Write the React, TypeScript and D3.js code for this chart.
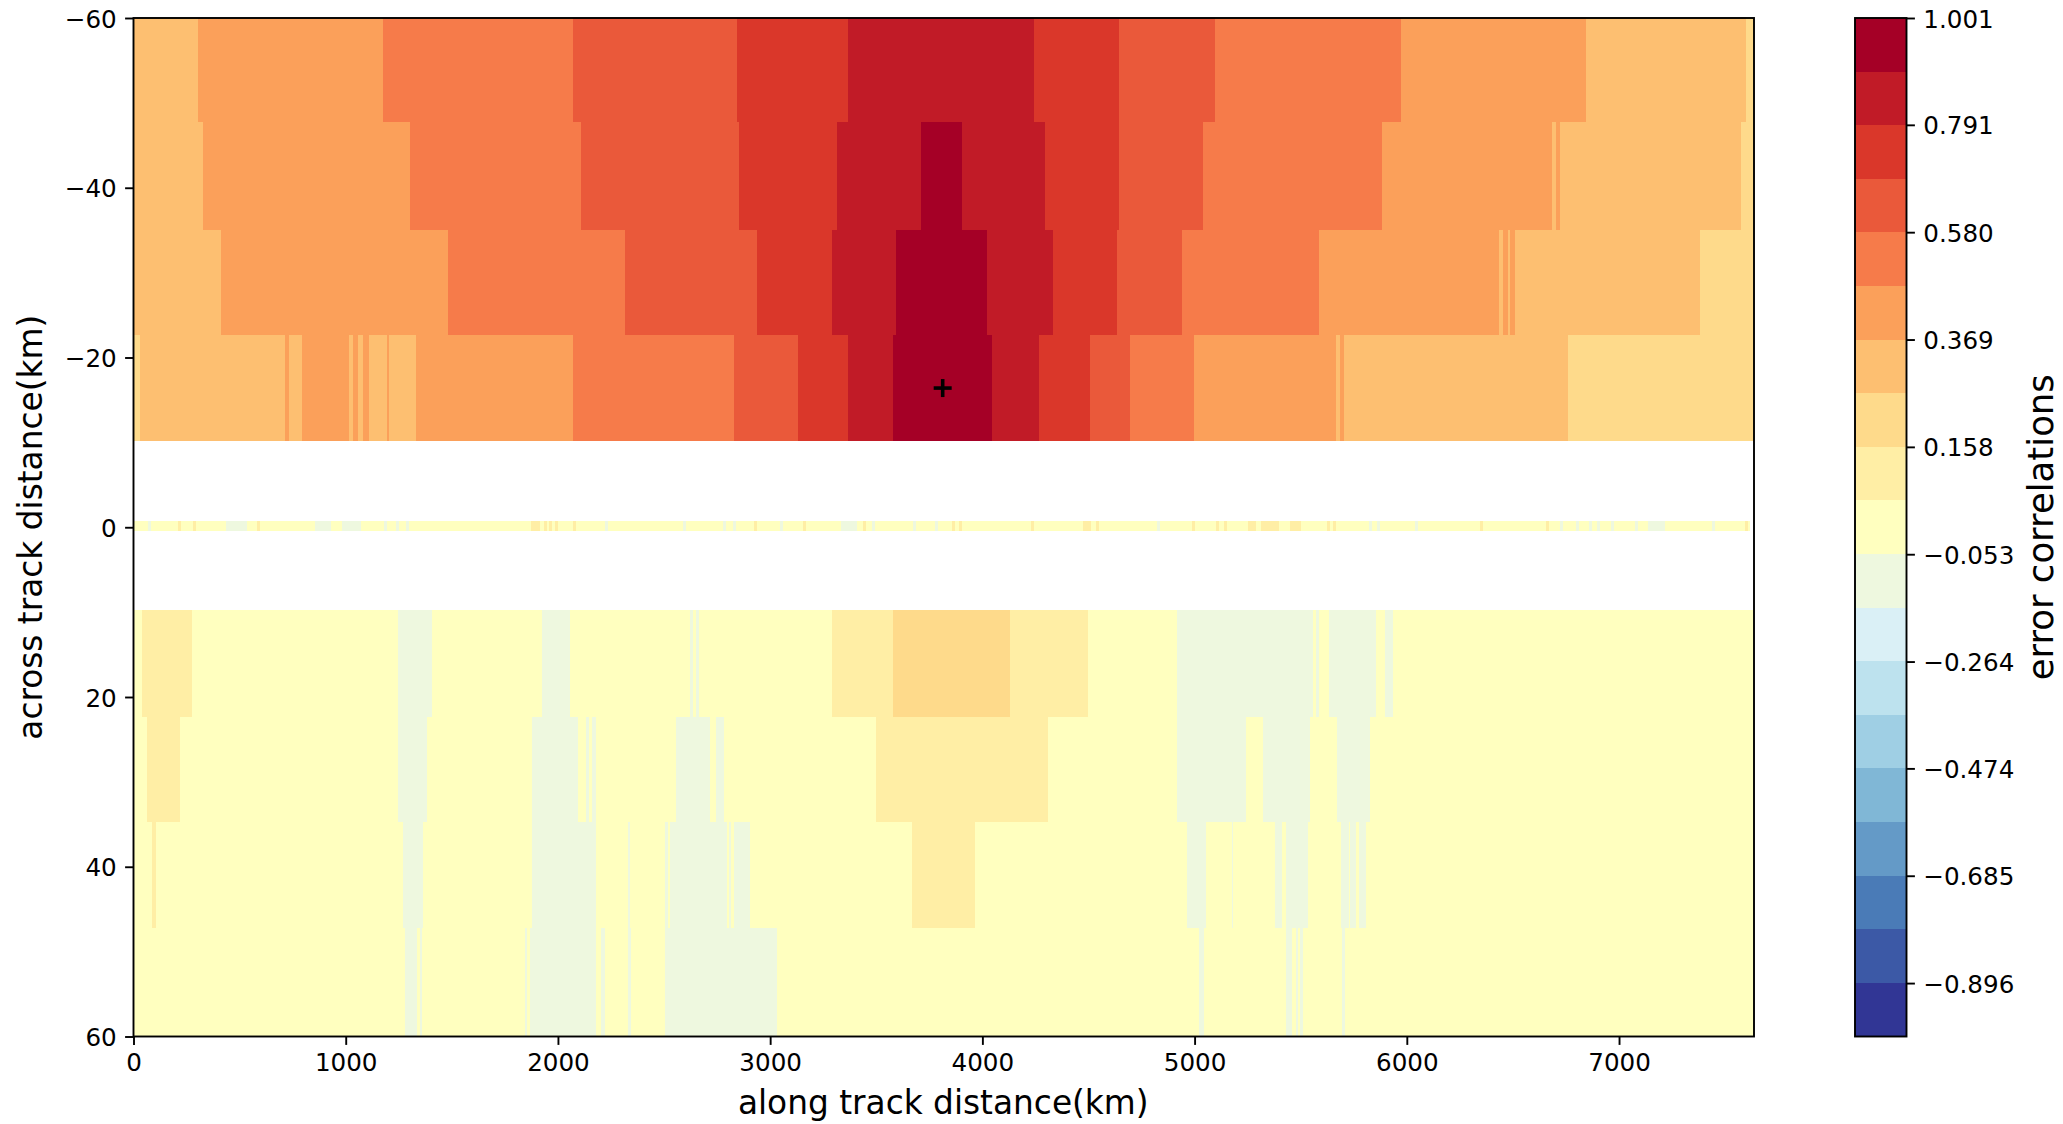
import React, { useRef, useEffect } from "react";
import * as d3 from "d3";

const xMax = 7636;
const xTicks = [0, 1000, 2000, 3000, 4000, 5000, 6000, 7000];
const yTicks = [-60, -40, -20, 0, 20, 40, 60];
const cbarTicks = [1.001, 0.791, 0.58, 0.369, 0.158, -0.053, -0.264, -0.474, -0.685, -0.896];

// RdYlBu_r in 19 steps, low to high
const cbarColors = [
  "#313695", "#3c59a6", "#4a7bb7", "#649ac7", "#80b7d6", "#9fcfe4", "#bde2ee", "#daf0f6", "#eef8df", "#ffffbf",
  "#ffeea5", "#feda8b", "#fdbf71", "#fba05a", "#f67b4a", "#ea593a", "#da372a", "#c11b27", "#a50026",
];

// band centres, named by where they show up in the picture
const a = 0.948, b = 0.843, c = 0.738, d = 0.632, e = 0.527, f = 0.422, g = 0.316, h = 0.211, i = 0.105, y0 = 0, n = -0.105;

// across track row limits (km)
const rowLimits = [
  [-60, -47.7], [-47.7, -35], [-35, -22.7], [-22.7, -10.2], [-0.7, 0.4],
  [9.7, 22.3], [22.3, 34.7], [34.7, 47.2], [47.2, 60],
];

// each row: along track edges and the value between them
const row1Edges = [0, 304, 1177, 2069, 2845, 3366, 4243, 4644, 5098, 5972, 6845, 7596, xMax];
const row1Values = [g, f, e, d, c, b, c, d, e, f, g, h];

const row2Edges = [0, 329, 1305, 2110, 2855, 3315, 3711, 3905, 4294, 4644, 5039, 5885, 6682, 6705, 6722, 7573, xMax];
const row2Values = [g, f, e, d, c, b, a, b, c, d, e, f, g, f, g, h];

const row3Edges = [0, 414, 1484, 2317, 2940, 3290, 3591, 4020, 4334, 4636, 4942, 5586, 6434, 6452, 6475, 6485, 6508, 7381, xMax];
const row3Values = [g, f, e, d, c, b, a, b, c, d, e, f, g, f, g, f, g, h];

const row4Edges = [0, 31, 713, 733, 792, 1014, 1032, 1057, 1083, 1108, 1195, 1203, 1331, 2069, 2830, 3129, 3366, 3581, 4046, 4268, 4508, 4695, 4996, 5665, 5686, 5706, 6758, xMax];
const row4Values = [h, g, f, g, f, g, f, g, f, g, f, g, f, e, d, c, b, a, b, c, d, e, f, g, f, g, h];

const centerEdges = [
  0, 70, 84, 210, 224, 279, 293, 434, 536, 580, 594, 855, 932, 983, 1073, 1181, 1195, 1237, 1251, 1283, 1297,
  1872, 1915, 1934, 1948, 1960, 1974, 1985, 1999, 2069, 2083, 2220, 2234, 2590, 2604, 2777, 2791, 2823, 2837, 2922, 2936, 3045, 3059,
  3155, 3169, 3333, 3410, 3436, 3450, 3479, 3493, 3671, 3685, 3778, 3792, 3855, 3869, 3888, 3902, 4228, 4242, 4474, 4511, 4536, 4550,
  4825, 4839, 4990, 5004, 5103, 5117, 5138, 5152, 5251, 5288, 5312, 5399, 5448, 5502, 5626, 5640, 5651, 5665, 5823, 5837, 5860, 5874,
  6040, 6054, 6346, 6360, 6654, 6668, 6723, 6737, 6797, 6811, 6859, 6873, 6895, 6909, 6962, 6976, 7075, 7089, 7137, 7218, 7438, 7452, 7593, 7607, 7615, 7629, xMax,
];
const centerValues = [
  y0, n, y0, i, y0, i, y0, n, y0, i, y0, n, y0, n, y0, n, y0, n, y0, n, y0,
  i, y0, i, y0, i, y0, i, y0, i, y0, n, y0, n, y0, n, y0, n, y0, i, y0, n, y0,
  i, y0, n, y0, i, y0, n, y0, n, y0, n, y0, i, y0, i, y0, i, y0, i, y0, i, y0,
  n, y0, i, y0, i, y0, i, y0, i, y0, i, y0, i, y0, i, y0, i, y0, n, y0, n, y0,
  n, y0, i, y0, i, y0, n, y0, n, y0, n, y0, n, y0, n, y0, n, y0, n, y0, n, y0, i, y0,
];

const row5Edges = [0, 38, 278, 1246, 1407, 1923, 2059, 2623, 2638, 2652, 2667, 3290, 3581, 4130, 4498, 4917, 5558, 5570, 5588, 5634, 5857, 5895, 5936, xMax];
const row5Values = [y0, i, y0, n, y0, n, y0, n, y0, n, y0, i, h, i, y0, n, y0, n, y0, n, y0, n, y0];

const row6Edges = [0, 64, 220, 1246, 1382, 1877, 2094, 2133, 2148, 2161, 2179, 2554, 2717, 2743, 2784, 3499, 4309, 4917, 5244, 5320, 5542, 5670, 5826, xMax];
const row6Values = [y0, i, y0, n, y0, n, y0, n, y0, n, y0, n, y0, n, y0, i, y0, n, y0, n, y0, n, y0];

const row7Edges = [0, 89, 105, 1272, 1364, 1877, 2179, 2332, 2339, 2503, 2518, 2529, 2797, 2804, 2817, 2830, 2904, 3667, 3967, 4963, 5055, 5175, 5182, 5379, 5410, 5430, 5535, 5691, 5726, 5734, 5760, 5775, 5808, xMax];
const row7Values = [y0, i, y0, n, y0, n, y0, n, y0, n, y0, n, y0, n, y0, n, y0, i, y0, n, y0, n, y0, n, y0, n, y0, n, y0, n, y0, n, y0];

const row8Edges = [0, 1280, 1338, 1349, 1361, 1847, 1852, 1870, 2179, 2202, 2222, 2332, 2342, 2503, 3032, 5021, 5044, 5430, 5458, 5476, 5486, 5499, 5509, 5696, 5709, xMax];
const row8Values = [y0, n, y0, n, y0, n, y0, n, y0, n, y0, n, y0, n, y0, n, y0, n, y0, n, y0, n, y0, n, y0];

const rowEdges = [row1Edges, row2Edges, row3Edges, row4Edges, centerEdges, row5Edges, row6Edges, row7Edges, row8Edges];
const rowValues = [row1Values, row2Values, row3Values, row4Values, centerValues, row5Values, row6Values, row7Values, row8Values];

// the + at the reference point
const refPoint = [3813, -16.4];

const FONT = "'DejaVu Sans', sans-serif";

export default function App() {
  const svgRef = useRef<SVGSVGElement>(null);

  useEffect(() => {
    const svg = d3.select(svgRef.current);
    svg.selectAll("*").remove();

    const left = 133.5, right = 1754, top = 18, bottom = 1036.5;
    const x = d3.scaleLinear().domain([0, xMax]).range([left, right]);
    const y = d3.scaleLinear().domain([-60, 60]).range([top, bottom]);
    const color = d3.scaleQuantize<string>().domain([-1.001, 1.001]).range(cbarColors);

    // heat map cells
    const cells = svg.append("g").attr("shape-rendering", "crispEdges");
    rowValues.forEach((vals, r) => {
      const edges = rowEdges[r];
      const [y1, y2] = rowLimits[r];
      cells
        .append("g")
        .selectAll("rect")
        .data(vals)
        .join("rect")
        .attr("x", (_, k) => x(edges[k]))
        .attr("width", (_, k) => x(edges[k + 1]) - x(edges[k]))
        .attr("y", y(y1))
        .attr("height", y(y2) - y(y1))
        .attr("fill", (v) => color(v));
    });

    // marker
    const [mx, my] = [x(refPoint[0]), y(refPoint[1])];
    const marker = svg.append("g").attr("stroke", "#000").attr("stroke-width", 3.6);
    marker.append("line").attr("x1", mx - 9).attr("x2", mx + 9).attr("y1", my).attr("y2", my);
    marker.append("line").attr("x1", mx).attr("x2", mx).attr("y1", my - 9).attr("y2", my + 9);

    const styleAxis = (g, vertical) => {
      g.attr("font-family", FONT).attr("font-size", 24.6);
      g.select(".domain").remove();
      g.selectAll(".tick line").attr("stroke", "#000").attr("stroke-width", 1.9);
      g.selectAll(".tick text").attr("fill", "#000");
      if (vertical) g.selectAll(".tick text").attr("dy", "0.37em");
    };

    svg
      .append("g")
      .attr("transform", `translate(0,${bottom})`)
      .call(d3.axisBottom(x).tickValues(xTicks).tickFormat(d3.format("d")).tickSize(8.4).tickPadding(8.4))
      .call(styleAxis, false);

    svg
      .append("g")
      .attr("transform", `translate(${left},0)`)
      .call(d3.axisLeft(y).tickValues(yTicks).tickFormat(d3.format("d")).tickSize(8.4).tickPadding(8.4))
      .call(styleAxis, true);

    svg
      .append("rect")
      .attr("x", left)
      .attr("y", top)
      .attr("width", right - left)
      .attr("height", bottom - top)
      .attr("fill", "none")
      .attr("stroke", "#000")
      .attr("stroke-width", 1.9);

    svg
      .append("text")
      .attr("x", (left + right) / 2 - 0.5)
      .attr("y", 1113.5)
      .attr("text-anchor", "middle")
      .attr("font-family", FONT)
      .attr("font-size", 32.8)
      .text("along track distance(km)");

    svg
      .append("text")
      .attr("transform", `translate(42,${(top + bottom) / 2}) rotate(-90)`)
      .attr("text-anchor", "middle")
      .attr("font-family", FONT)
      .attr("font-size", 32.8)
      .text("across track distance(km)");

    // colorbar
    const cbLeft = 1855, cbRight = 1906.5;
    const cy = d3.scaleLinear().domain([-1.001, 1.001]).range([bottom, top]);
    const bandEdges = d3.range(cbarColors.length).map((k) => color.invertExtent(cbarColors[k]));
    svg
      .append("g")
      .attr("shape-rendering", "crispEdges")
      .selectAll("rect")
      .data(bandEdges)
      .join("rect")
      .attr("x", cbLeft)
      .attr("width", cbRight - cbLeft)
      .attr("y", (ext) => cy(ext[1]))
      .attr("height", (ext) => cy(ext[0]) - cy(ext[1]))
      .attr("fill", (ext) => color((ext[0] + ext[1]) / 2));

    svg
      .append("g")
      .attr("transform", `translate(${cbRight},0)`)
      .call(d3.axisRight(cy).tickValues(cbarTicks).tickFormat(d3.format(".3f")).tickSize(8.4).tickPadding(8.4))
      .call(styleAxis, true);

    svg
      .append("rect")
      .attr("x", cbLeft)
      .attr("y", top)
      .attr("width", cbRight - cbLeft)
      .attr("height", bottom - top)
      .attr("fill", "none")
      .attr("stroke", "#000")
      .attr("stroke-width", 1.9);

    svg
      .append("text")
      .attr("transform", `translate(2053,${(top + bottom) / 2}) rotate(-90)`)
      .attr("text-anchor", "middle")
      .attr("font-family", FONT)
      .attr("font-size", 35.5)
      .text("error correlations");
  }, []);

  return (
    <svg
      ref={svgRef}
      width={2063}
      height={1124}
      style={{ position: "absolute", left: 0, top: 0, background: "#fff" }}
    ></svg>
  );
}
